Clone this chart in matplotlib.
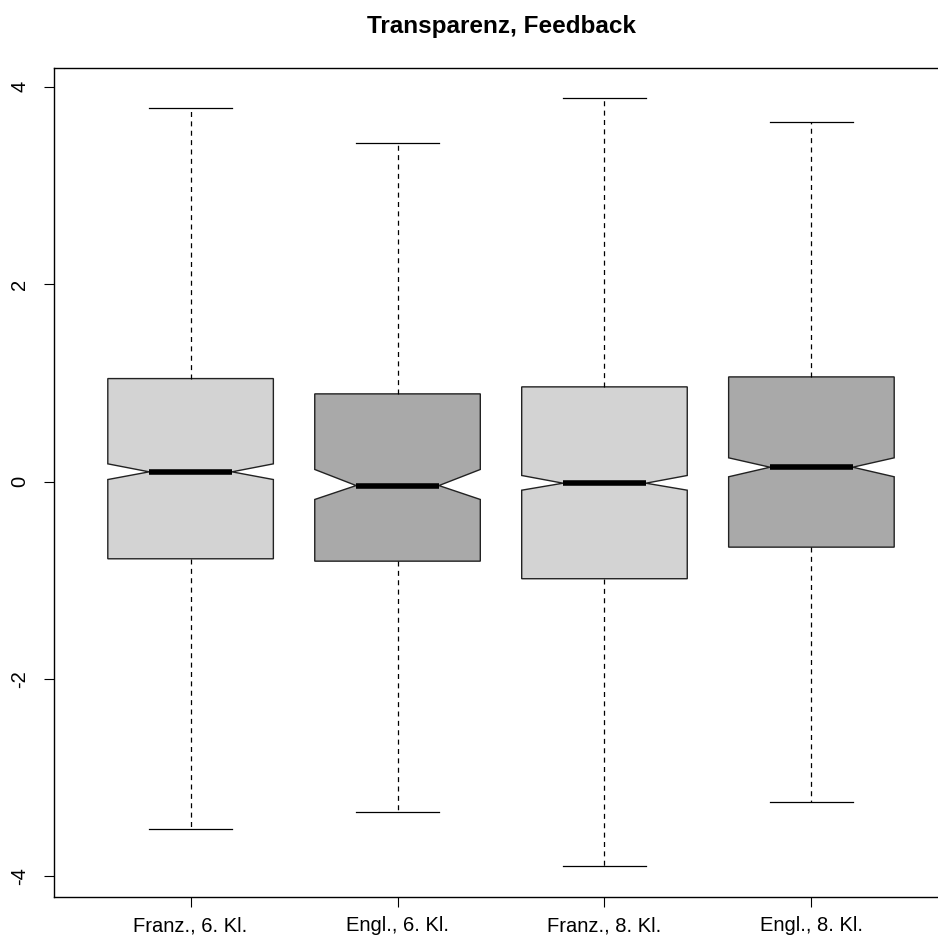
import matplotlib.pyplot as plt

plt.rcParams['font.family'] = ['Liberation Sans', 'DejaVu Sans']

# Values (R-style notched boxplot)
groups = ['Franz., 6. Kl.', 'Engl., 6. Kl.', 'Franz., 8. Kl.', 'Engl., 8. Kl.']
medians = [0.098, -0.041, -0.017, 0.145]
q1 = [-0.783, -0.807, -0.985, -0.665]
q3 = [1.043, 0.888, 0.959, 1.060]
whisker_lo = [-3.524, -3.352, -3.899, -3.250]
whisker_hi = [3.787, 3.433, 3.889, 3.646]
notch_lo = [0.020, -0.182, -0.088, 0.048]
notch_hi = [0.179, 0.122, 0.061, 0.240]
box_colors = ['#d3d3d3', '#a9a9a9', '#d3d3d3', '#a9a9a9']

stats = []
for i, name in enumerate(groups):
    stats.append({
        'label': name,
        'med': medians[i],
        'q1': q1[i],
        'q3': q3[i],
        'whislo': whisker_lo[i],
        'whishi': whisker_hi[i],
        'cilo': notch_lo[i],
        'cihi': notch_hi[i],
        'fliers': [],
    })

fig = plt.figure(figsize=(9.38, 9.40), dpi=100)
ax = fig.add_axes([54 / 938, 43 / 940, 894 / 938, 829 / 940])

bp = ax.bxp(stats, positions=[1, 2, 3, 4], widths=0.8, capwidths=0.4,
            shownotches=True, patch_artist=True, showfliers=False,
            boxprops=dict(edgecolor='#222222', linewidth=1.0),
            medianprops=dict(color='black', linewidth=4, solid_capstyle='butt'),
            whiskerprops=dict(color='black', linewidth=0.9, linestyle=(0, (4, 3.5))),
            capprops=dict(color='black', linewidth=0.9))
for patch, c in zip(bp['boxes'], box_colors):
    patch.set_facecolor(c)

ax.set_xlim(0.34, 4.66)
ax.set_ylim(-4.21, 4.19)
ax.set_yticks([-4, -2, 0, 2, 4])
ax.set_yticklabels(['-4', '-2', '0', '2', '4'], rotation=90, va='center')
ax.set_xticks([1, 2, 3, 4])
ax.set_xticklabels(groups)
ax.tick_params(axis='both', direction='out', length=7, width=0.8, labelsize=14.5)
ax.tick_params(axis='x', pad=7)
ax.tick_params(axis='y', pad=11)
for s in ax.spines.values():
    s.set_linewidth(1.0)

fig.text(501 / 938, 1 - 27 / 940, 'Transparenz, Feedback', ha='center', va='center',
         fontsize=17.5, fontweight='bold')

plt.savefig('out.png', dpi=100)
